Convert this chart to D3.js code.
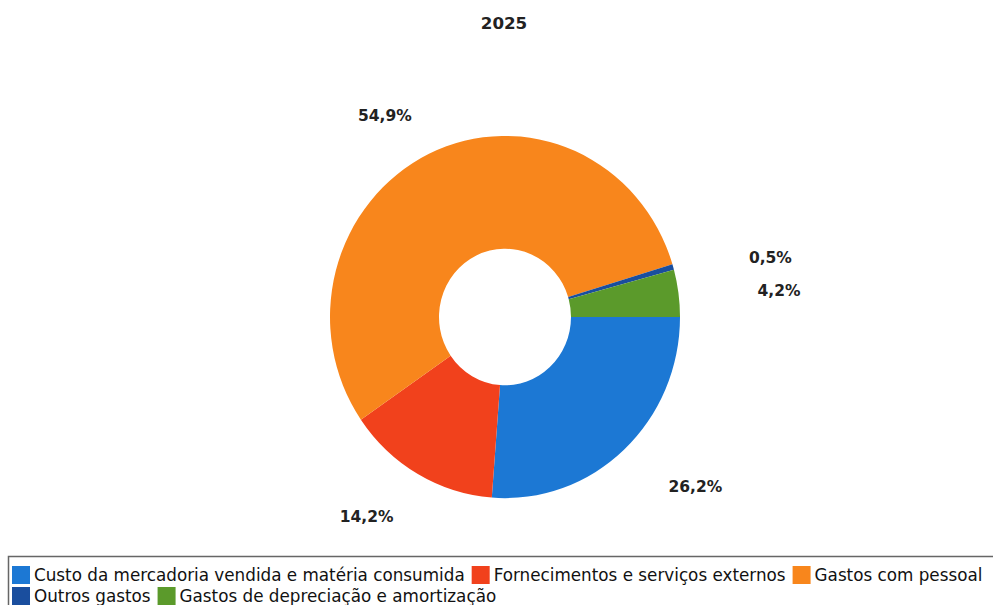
<!DOCTYPE html>
<html>
<head>
<meta charset="utf-8">
<script src="https://cdn.jsdelivr.net/npm/d3@7"></script>
<style>
  html, body { margin: 0; padding: 0; background: #fff; overflow: hidden; }
  svg { display: block; font-family: "DejaVu Sans", Verdana, sans-serif; }
</style>
</head>
<body>
<svg id="chart" width="993" height="605"></svg>
<script>
// Cost structure for 2025
const title = "2025";
const categories = [
  "Custo da mercadoria vendida e matéria consumida",
  "Fornecimentos e serviços externos",
  "Gastos com pessoal",
  "Outros gastos",
  "Gastos de depreciação e amortização"
];
const shares = [26.2, 14.2, 54.9, 0.5, 4.2];
const colors = ["#1c78d4", "#f1411c", "#f8861c", "#1a4e9e", "#5b9a2b"];

const svg = d3.select("#chart");
const cx = 505, cy = 317;
const outerR = 175, innerR = 66;
const yStretch = 1.035;

svg.append("text")
  .attr("x", 504).attr("y", 29)
  .attr("text-anchor", "middle")
  .attr("font-size", 16.7).attr("font-weight", "bold")
  .attr("fill", "#222")
  .text(title);

const pie = d3.pie().sort(null).value(d => d)
  .startAngle(Math.PI / 2).endAngle(Math.PI / 2 + 2 * Math.PI);
const arcs = pie(shares);
const arc = d3.arc().innerRadius(innerR).outerRadius(outerR);

const g = svg.append("g")
  .attr("transform", `translate(${cx},${cy}) scale(1,${yStretch})`);
g.selectAll("path").data(arcs).enter().append("path")
  .attr("d", arc)
  .attr("fill", (d, i) => colors[i]);

// percentage labels placed around the ring along each slice's mid-angle,
// anchored toward the ring on each side
const labelRx = 286, labelRy = 227, labelPull = 31, labelDrop = 3;
const fmt = v => d3.format(".1f")(v).replace(".", ",") + "%";
svg.selectAll("text.lbl").data(arcs).enter().append("text")
  .attr("class", "lbl")
  .each(function(d) {
    const a = (d.startAngle + d.endAngle) / 2;
    const sx = Math.sin(a), sy = -Math.cos(a);
    const side = sx >= 0 ? 1 : -1;
    d3.select(this)
      .attr("x", cx + labelRx * sx - labelPull * side)
      .attr("y", cy + labelRy * sy + labelDrop)
      .attr("text-anchor", side > 0 ? "start" : "end");
  })
  .attr("dy", "0.35em")
  .attr("font-size", 15.5).attr("font-weight", "bold")
  .attr("fill", "#222")
  .text(d => fmt(d.data));

// legend frame
svg.append("path")
  .attr("d", "M8.5,605 V556.5 H993")
  .attr("fill", "none").attr("stroke", "#666").attr("stroke-width", 1.5);

// legend items flowing left to right, wrapping into rows
const legend = svg.append("g");
let lx = 12, ly = 565;
const rowH = 21, maxX = 995;
categories.forEach((name, i) => {
  const item = legend.append("g");
  const t = item.append("text")
    .attr("font-size", 16.8).attr("fill", "#111")
    .text(name);
  const w = 22 + t.node().getComputedTextLength();
  if (lx + w > maxX && lx > 12) { lx = 12; ly += rowH; }
  item.append("rect")
    .attr("x", lx).attr("y", ly + 1)
    .attr("width", 18).attr("height", 18)
    .attr("fill", colors[i]);
  t.attr("x", lx + 22).attr("y", ly + 16);
  lx += w + 7;
});
</script>
</body>
</html>
